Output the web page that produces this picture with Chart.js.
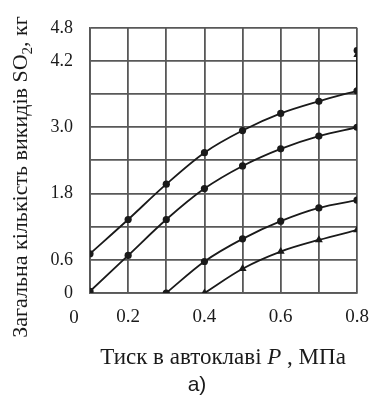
<!DOCTYPE html>
<html>
<head>
<meta charset="utf-8">
<script src="https://cdn.jsdelivr.net/npm/chart.js@4/dist/chart.umd.min.js"></script>
<style>
  html, body { margin: 0; padding: 0; background: #fff; }
  canvas { display: block; }
</style>
</head>
<body>
<canvas id="chart" width="383" height="397"></canvas>
<script>
// pressure, MPa
const pressure = [0.1, 0.2, 0.3, 0.4, 0.5, 0.6, 0.7, 0.8];
// SO2 emissions, kg (null = no point)
const series1 = [0.71, 1.33, 1.97, 2.54, 2.94, 3.25, 3.47, 3.66];
const series2 = [0.03, 0.68, 1.33, 1.89, 2.30, 2.61, 2.84, 3.00];
const series3 = [null, null, 0.00, 0.57, 0.98, 1.30, 1.54, 1.68];
const series4 = [null, null, null, 0.00, 0.44, 0.75, 0.96, 1.14];
// the short vertical jump at the right edge
const jumpX = [0.8, 0.8, 0.8];
const jumpY = [3.66, 4.31, 4.39];

const xTickLabels = { 1: '', 2: '0.2', 3: '', 4: '0.4', 5: '', 6: '0.6', 7: '', 8: '0.8' };
const yTickLabels = { 0: '0', 6: '0.6', 12: '', 18: '1.8', 24: '', 30: '3.0', 36: '', 42: '4.2', 48: '4.8' };

const xTitle = ['Тиск в автоклаві ', 'P', ' , МПа'];
const yTitle = ['Загальна кількість викидів SO', '2', ', кг'];
const caption = 'а)';

const serif = "'Liberation Serif', 'DejaVu Serif', serif";
const lineColor = '#1a1a1a';
const gridColor = '#585858';

const toPoints = (xs, ys) => xs.map((x, i) => ({ x: x, y: ys[i] }));

const line = (ys, style) => ({
  data: toPoints(pressure, ys),
  borderColor: lineColor,
  backgroundColor: lineColor,
  borderWidth: 1.8,
  pointStyle: style,
  pointRadius: style === 'triangle' ? 4.6 : 3.6,
  pointBorderWidth: 0,
  cubicInterpolationMode: 'monotone',
  spanGaps: false
});

// extra texts: origin "0", axis titles, caption
const textPlugin = {
  id: 'texts',
  afterDraw(chart) {
    const { ctx, chartArea } = chart;
    ctx.save();
    ctx.fillStyle = '#1a1a1a';
    ctx.textBaseline = 'middle';

    ctx.font = '19px ' + serif;
    ctx.textAlign = 'center';
    ctx.fillText('0', chartArea.left - 16, 318);

    // x title with italic P
    const normal = '23px ' + serif;
    const italic = 'italic 23px ' + serif;
    ctx.font = normal;
    const w0 = ctx.measureText(xTitle[0]).width;
    const w2 = ctx.measureText(xTitle[2]).width;
    ctx.font = italic;
    const w1 = ctx.measureText(xTitle[1]).width;
    let x = 223 - (w0 + w1 + w2) / 2;
    const y = 358;
    ctx.textAlign = 'left';
    ctx.font = normal;
    ctx.fillText(xTitle[0], x, y);
    ctx.font = italic;
    ctx.fillText(xTitle[1], x + w0, y);
    ctx.font = normal;
    ctx.fillText(xTitle[2], x + w0 + w1, y);

    // y title, rotated, with subscript 2
    ctx.translate(21, 177);
    ctx.rotate(-Math.PI / 2);
    const big = '22px ' + serif;
    const small = '15px ' + serif;
    ctx.font = big;
    const a = ctx.measureText(yTitle[0]).width;
    const c = ctx.measureText(yTitle[2]).width;
    ctx.font = small;
    const b = ctx.measureText(yTitle[1]).width;
    x = -(a + b + c) / 2;
    ctx.font = big;
    ctx.fillText(yTitle[0], x, 0);
    ctx.font = small;
    ctx.fillText(yTitle[1], x + a, 7);
    ctx.font = big;
    ctx.fillText(yTitle[2], x + a + b, 0);
    ctx.restore();

    ctx.save();
    ctx.fillStyle = '#1a1a1a';
    ctx.font = "21px 'Liberation Sans', Arial, sans-serif";
    ctx.textAlign = 'center';
    ctx.textBaseline = 'middle';
    ctx.fillText(caption, 197, 385);
    ctx.restore();
  }
};

new Chart(document.getElementById('chart'), {
  type: 'line',
  data: {
    datasets: [
      line(series1, 'circle'),
      line(series2, 'circle'),
      line(series3, 'circle'),
      line(series4, 'triangle'),
      {
        data: toPoints(jumpX, jumpY),
        borderColor: lineColor,
        backgroundColor: lineColor,
        borderWidth: 1.8,
        pointStyle: ['circle', 'triangle', 'circle'],
        pointRadius: [0, 4.2, 3.4],
        pointBorderWidth: 0
      }
    ]
  },
  options: {
    responsive: false,
    animation: false,
    layout: { padding: { top: 24, right: 26, left: 0, bottom: 0 } },
    plugins: { legend: { display: false }, tooltip: { enabled: false } },
    scales: {
      x: {
        type: 'linear',
        min: 0.1,
        max: 0.8,
        afterFit: (scale) => { scale.height = 104; },
        afterBuildTicks: (scale) => {
          scale.ticks = pressure.map((v) => ({ value: v }));
        },
        ticks: {
          padding: 13,
          color: '#1a1a1a',
          font: { family: serif, size: 19 },
          maxRotation: 0,
          autoSkip: false,
          callback: (v) => xTickLabels[Math.round(v * 10)] || ''
        },
        grid: { color: gridColor, lineWidth: 1.8, drawTicks: false },
        border: { color: gridColor, width: 1.8 }
      },
      y: {
        min: 0,
        max: 4.8,
        afterFit: (scale) => { scale.width = 90; },
        ticks: {
          stepSize: 0.6,
          padding: 17,
          color: '#1a1a1a',
          font: { family: serif, size: 18 },
          autoSkip: false,
          callback: (v) => yTickLabels[Math.round(v * 10)] || ''
        },
        grid: { color: gridColor, lineWidth: 1.8, drawTicks: false },
        border: { color: gridColor, width: 1.8 }
      }
    }
  },
  plugins: [textPlugin]
});
</script>
</body>
</html>
